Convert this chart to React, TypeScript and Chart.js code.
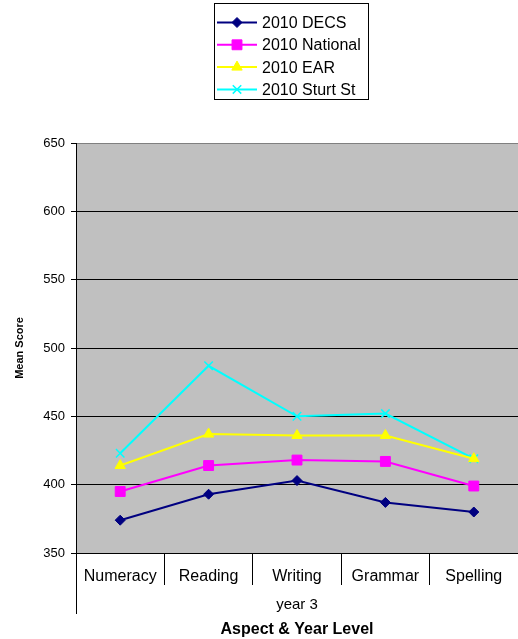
import React, { useEffect, useRef } from 'react';
import { Chart, registerables } from 'chart.js';
import { drawPoint } from 'chart.js/helpers';

Chart.register(...registerables);

const categories = ['Numeracy', 'Reading', 'Writing', 'Grammar', 'Spelling'];
const groupLabel = 'year 3';
const seriesNames = ['2010 DECS', '2010 National', '2010 EAR', '2010 Sturt St'];
const decsValues = [374, 393, 403, 387, 380];
const nationalValues = [395, 414, 418, 417, 399];
const earValues = [414, 437, 436, 436, 419];
const sturtValues = [423, 487, 450, 452, 419];
const yMin = 350;
const yMax = 650;
const yStep = 50;
const yTitle = 'Mean Score';
const xTitle = 'Aspect & Year Level';

const FONT = "'Liberation Sans', Arial, sans-serif";

const plotBgPlugin = {
  id: 'plotBg',
  beforeDraw(chart: any) {
    const { ctx, chartArea } = chart;
    ctx.save();
    ctx.fillStyle = '#C0C0C0';
    ctx.fillRect(chartArea.left, chartArea.top, chartArea.right - chartArea.left, chartArea.bottom - chartArea.top);
    ctx.restore();
  },
};

const extrasPlugin = {
  id: 'extras',
  afterDraw(chart: any) {
    const { ctx, chartArea } = chart;
    ctx.save();
    // group divider line extending down from the axis
    ctx.strokeStyle = '#000';
    ctx.lineWidth = 1;
    ctx.beginPath();
    ctx.moveTo(Math.round(chartArea.left) + 0.5, chartArea.bottom);
    ctx.lineTo(Math.round(chartArea.left) + 0.5, chartArea.bottom + 61);
    ctx.stroke();
    // group label
    ctx.fillStyle = '#000';
    ctx.font = `15px ${FONT}`;
    ctx.textAlign = 'center';
    ctx.textBaseline = 'middle';
    ctx.fillText(groupLabel, (chartArea.left + chartArea.right) / 2, chartArea.bottom + 52);

    // legend
    ctx.strokeStyle = '#000';
    ctx.lineWidth = 1;
    ctx.strokeRect(214.5, 3.5, 154, 96);
    chart.data.datasets.forEach((ds: any, i: number) => {
      const y = 22.5 + i * 22.3;
      ctx.strokeStyle = ds.borderColor;
      ctx.lineWidth = ds.borderWidth;
      ctx.beginPath();
      ctx.moveTo(217, y);
      ctx.lineTo(257, y);
      ctx.stroke();
      ctx.fillStyle = ds.pointBackgroundColor;
      ctx.strokeStyle = ds.pointBorderColor;
      ctx.lineWidth = ds.pointBorderWidth;
      drawPoint(ctx, { pointStyle: ds.pointStyle, radius: ds.pointRadius, rotation: 0, borderWidth: ds.pointBorderWidth } as any, 237, y);
      ctx.fillStyle = '#000';
      ctx.font = `16px ${FONT}`;
      ctx.textAlign = 'left';
      ctx.textBaseline = 'middle';
      ctx.fillText(ds.label, 262, y + 1);
    });
    ctx.restore();
  },
};

function makeDataset(label: string, data: number[], color: string, pointStyle: string, radius: number, pbw: number) {
  return {
    label,
    data,
    borderColor: color,
    backgroundColor: color,
    borderWidth: 2,
    pointStyle,
    pointRadius: radius,
    pointHoverRadius: radius,
    pointBackgroundColor: color,
    pointBorderColor: color,
    pointBorderWidth: pbw,
    tension: 0,
    fill: false,
  };
}

export default function App() {
  const canvasRef = useRef<HTMLCanvasElement | null>(null);

  useEffect(() => {
    if (!canvasRef.current) return;
    const chart = new Chart(canvasRef.current, {
      type: 'line',
      data: {
        labels: categories,
        datasets: [
          makeDataset(seriesNames[0], decsValues, '#000080', 'rectRot', 5, 1),
          makeDataset(seriesNames[1], nationalValues, '#FF00FF', 'rect', 7, 1),
          makeDataset(seriesNames[2], earValues, '#FFFF00', 'triangle', 6, 1),
          makeDataset(seriesNames[3], sturtValues, '#00FFFF', 'crossRot', 6, 1.5),
        ],
      },
      options: {
        animation: false,
        responsive: false,
        devicePixelRatio: 1,
        layout: { autoPadding: false, padding: { top: 143, right: 0, bottom: 0, left: 0 } },
        plugins: {
          legend: { display: false },
          tooltip: { enabled: false },
          title: { display: false },
        },
        scales: {
          x: {
            type: 'category',
            offset: true,
            afterFit: (scale: any) => {
              scale.height = 86;
              scale.paddingLeft = 0;
              scale.paddingRight = 0;
            },
            grid: {
              offset: true,
              drawOnChartArea: false,
              drawTicks: true,
              tickLength: 32,
              color: '#000',
              tickColor: '#000',
              lineWidth: 1,
            },
            border: { display: true, color: '#000', width: 1 },
            ticks: {
              color: '#000',
              font: { family: FONT, size: 16 },
              padding: -18,
              maxRotation: 0,
              autoSkip: false,
            },
            title: {
              display: true,
              text: xTitle,
              color: '#000',
              font: { family: FONT, size: 16, weight: 'bold' },
              padding: { top: 0, bottom: 0 },
            },
          },
          y: {
            min: yMin,
            max: yMax,
            afterFit: (scale: any) => {
              scale.width = 76;
              scale.paddingTop = 0;
              scale.paddingBottom = 0;
            },
            grid: {
              color: (c: any) => (c.tick && c.tick.value === yMax ? '#808080' : '#000'),
              tickColor: '#000',
              tickLength: 5,
              lineWidth: 1,
            },
            border: { display: true, color: '#000', width: 1 },
            ticks: {
              stepSize: yStep,
              color: '#000',
              font: { family: FONT, size: 13 },
              padding: 6,
            },
            title: {
              display: true,
              text: yTitle,
              color: '#000',
              font: { family: FONT, size: 11, weight: 'bold' },
              padding: { top: 13, bottom: 0 },
            },
          },
        },
      } as any,
      plugins: [plotBgPlugin, extrasPlugin],
    });
    return () => chart.destroy();
  }, []);

  return (
    <div style={{ position: 'absolute', left: 0, top: 0, width: 518, height: 639, background: '#fff' }}>
      <canvas ref={canvasRef} width={518} height={639} style={{ width: 518, height: 639, display: 'block' }} />
    </div>
  );
}
